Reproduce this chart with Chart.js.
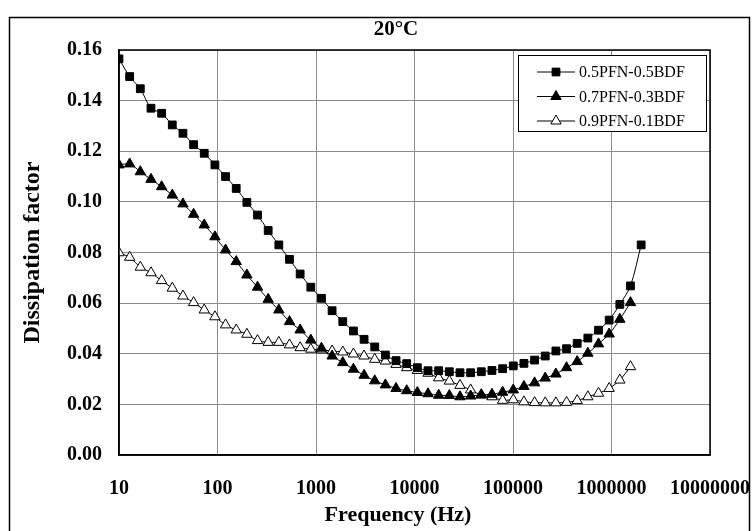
<!DOCTYPE html>
<html lang="en">

<head>
    <meta charset="UTF-8">
    <title>Dissipation factor 20°C</title>
    <script src="https://cdn.jsdelivr.net/npm/chart.js@4.4.1/dist/chart.umd.min.js"></script>
    <style>
        html, body { margin: 0; padding: 0; background: #fff; }
        #wrap { width: 752px; height: 531px; }
    </style>
</head>

<body>
    <div id="wrap"><canvas id="chart" width="752" height="531"></canvas></div>

    <script>
        // measurement frequencies (Hz)
        const freq = [10, 12.83, 16.46, 21.12, 27.09, 34.75, 44.58, 57.19, 73.37, 94.12,
            120.7, 154.9, 198.7, 254.9, 327.0, 419.5, 538.1, 690.3, 885.6, 1136,
            1457, 1870, 2399, 3077, 3948, 5064, 6497, 8334, 10692, 13716,
            17596, 22573, 28958, 37149, 47657, 61137, 78430, 100615, 129074, 165583,
            212418, 272500, 349577, 448454, 575299, 738022, 946771, 1214569, 1558111, 2000000];

        const seriesNames = ['0.5PFN-0.5BDF', '0.7PFN-0.3BDF', '0.9PFN-0.1BDF'];

        const df05 = [0.1565, 0.1495, 0.1447, 0.1370, 0.1350, 0.1304, 0.1271, 0.1226, 0.1192, 0.1146,
            0.1100, 0.1053, 0.0998, 0.0948, 0.0887, 0.0830, 0.0773, 0.0715, 0.0663, 0.0619,
            0.0570, 0.0527, 0.0490, 0.0457, 0.0427, 0.0395, 0.0373, 0.0361, 0.0345, 0.0333,
            0.0333, 0.0329, 0.0325, 0.0325, 0.0329, 0.0334, 0.0341, 0.0352, 0.0362, 0.0375,
            0.0391, 0.0411, 0.0420, 0.0441, 0.0462, 0.0493, 0.0533, 0.0595, 0.0668, 0.0830];

        const df07 = [0.1146, 0.1150, 0.1119, 0.1089, 0.1060, 0.1027, 0.0992, 0.0951, 0.0909, 0.0862,
            0.0810, 0.0764, 0.0711, 0.0663, 0.0615, 0.0573, 0.0527, 0.0494, 0.0454, 0.0422,
            0.0391, 0.0365, 0.0339, 0.0315, 0.0293, 0.0277, 0.0263, 0.0254, 0.0247, 0.0242,
            0.0236, 0.0235, 0.0230, 0.0233, 0.0238, 0.0240, 0.0248, 0.0257, 0.0271, 0.0285,
            0.0304, 0.0320, 0.0345, 0.0369, 0.0402, 0.0439, 0.0478, 0.0536, 0.0602];

        const df09 = [0.0799, 0.0781, 0.0742, 0.0720, 0.0689, 0.0659, 0.0628, 0.0602, 0.0573, 0.0546,
            0.0514, 0.0494, 0.0477, 0.0452, 0.0445, 0.0445, 0.0435, 0.0424, 0.0418, 0.0415,
            0.0411, 0.0407, 0.0399, 0.0391, 0.0378, 0.0371, 0.0358, 0.0345, 0.0334, 0.0323,
            0.0305, 0.0292, 0.0275, 0.0257, 0.0237, 0.0230, 0.0216, 0.0218, 0.0210, 0.0207,
            0.0206, 0.0206, 0.0208, 0.0215, 0.0230, 0.0244, 0.0263, 0.0296, 0.0349];

        const xTicks = [10, 100, 1000, 10000, 100000, 1000000, 10000000];
        const yTicks = [0, 0.02, 0.04, 0.06, 0.08, 0.10, 0.12, 0.14, 0.16];

        const chartTitle = '20°C';
        const xTitle = 'Frequency (Hz)';
        const yTitle = 'Dissipation factor';

        const serif = "'Liberation Serif', 'Times New Roman', serif";

        function toPoints(values) {
            return values.map((v, i) => ({ x: freq[i], y: v }));
        }

        function makeDataset(label, values, style, fill) {
            return {
                label: label,
                data: toPoints(values),
                borderColor: '#000',
                borderWidth: 1,
                tension: 0.3,
                pointStyle: style,
                pointRadius: style === 'rect' ? 5.5 : 6,
                pointBackgroundColor: fill,
                pointBorderColor: '#000',
                pointBorderWidth: 1
            };
        }

        // marker drawing for the in-plot legend
        function drawMarker(ctx, ds, x, y) {
            const r = ds.pointRadius;
            ctx.beginPath();
            if (ds.pointStyle === 'rect') {
                const s = r * Math.SQRT1_2;
                ctx.rect(x - s, y - s, 2 * s, 2 * s);
            } else {
                for (let k = 0; k < 3; k++) {
                    const a = k * 2 * Math.PI / 3;
                    const px = x + Math.sin(a) * r;
                    const py = y - Math.cos(a) * r;
                    if (k === 0) ctx.moveTo(px, py); else ctx.lineTo(px, py);
                }
                ctx.closePath();
            }
            ctx.fillStyle = ds.pointBackgroundColor;
            ctx.fill();
            ctx.lineWidth = 1;
            ctx.strokeStyle = '#000';
            ctx.stroke();
        }

        const framePlugin = {
            id: 'frame',
            afterDraw(chart) {
                const ctx = chart.ctx;
                const a = chart.chartArea;
                ctx.save();
                // outer frame
                ctx.strokeStyle = '#000';
                ctx.lineWidth = 1.5;
                ctx.strokeRect(9.5, 17.5, 740, 530);
                // plot border
                ctx.strokeRect(a.left, a.top, a.right - a.left, a.bottom - a.top);

                // titles
                ctx.fillStyle = '#000';
                ctx.textAlign = 'center';
                ctx.textBaseline = 'middle';
                ctx.font = 'bold 21px ' + serif;
                ctx.fillText(chartTitle, 396, 30);
                ctx.font = 'bold 22px ' + serif;
                ctx.fillText(xTitle, 398, 515);

                // legend box
                const bx = a.right - 192, by = a.top + 5, bw = 188, bh = 76;
                ctx.fillStyle = '#fff';
                ctx.fillRect(bx, by, bw, bh);
                ctx.lineWidth = 1;
                ctx.strokeRect(bx + 0.5, by + 0.5, bw, bh);
                ctx.font = '16px ' + serif;
                ctx.textAlign = 'left';
                chart.data.datasets.forEach((ds, i) => {
                    const ry = by + 17 + i * 24.5;
                    ctx.beginPath();
                    ctx.moveTo(bx + 19, ry);
                    ctx.lineTo(bx + 57, ry);
                    ctx.strokeStyle = '#000';
                    ctx.lineWidth = 1;
                    ctx.stroke();
                    drawMarker(ctx, ds, bx + 38, ry);
                    ctx.fillStyle = '#000';
                    ctx.fillText(ds.label, bx + 61, ry + 1);
                });
                ctx.restore();
            }
        };

        new Chart(document.getElementById('chart'), {
            type: 'line',
            data: {
                datasets: [
                    makeDataset(seriesNames[0], df05, 'rect', '#000'),
                    makeDataset(seriesNames[1], df07, 'triangle', '#000'),
                    makeDataset(seriesNames[2], df09, 'triangle', '#fff')
                ]
            },
            options: {
                responsive: false,
                animation: false,
                layout: { padding: { left: 10, right: 42, top: 50, bottom: 0 } },
                plugins: {
                    legend: { display: false },
                    tooltip: { enabled: false },
                    title: { display: false }
                },
                scales: {
                    x: {
                        type: 'logarithmic',
                        min: 10,
                        max: 10000000,
                        afterBuildTicks: (scale) => { scale.ticks = xTicks.map(v => ({ value: v })); },
                        afterFit: (scale) => {
                            scale.height = 76;
                            scale.paddingLeft = 0;
                            scale.paddingRight = 0;
                        },
                        ticks: {
                            color: '#000',
                            autoSkip: false,
                            maxRotation: 0,
                            padding: 22,
                            font: { family: serif, size: 20, weight: 'bold' },
                            callback: (v) => String(v)
                        },
                        grid: { color: '#8a8a8a', lineWidth: 1, drawTicks: false },
                        border: { color: '#000', width: 1.5 },
                        title: { display: false }
                    },
                    y: {
                        min: 0,
                        max: 0.16,
                        afterBuildTicks: (scale) => { scale.ticks = yTicks.map(v => ({ value: v })); },
                        afterFit: (scale) => {
                            scale.width = 109;
                            scale.paddingTop = 0;
                            scale.paddingBottom = 0;
                        },
                        ticks: {
                            color: '#000',
                            padding: 17,
                            font: { family: serif, size: 20, weight: 'bold' },
                            callback: (v) => v.toFixed(2)
                        },
                        grid: { color: '#8a8a8a', lineWidth: 1, drawTicks: false },
                        border: { color: '#000', width: 1.5 },
                        title: {
                            display: true,
                            text: yTitle,
                            color: '#000',
                            font: { family: serif, size: 24, weight: 'bold' },
                            padding: { top: 8, bottom: 0 }
                        }
                    }
                }
            },
            plugins: [framePlugin]
        });
    </script>
</body>

</html>
